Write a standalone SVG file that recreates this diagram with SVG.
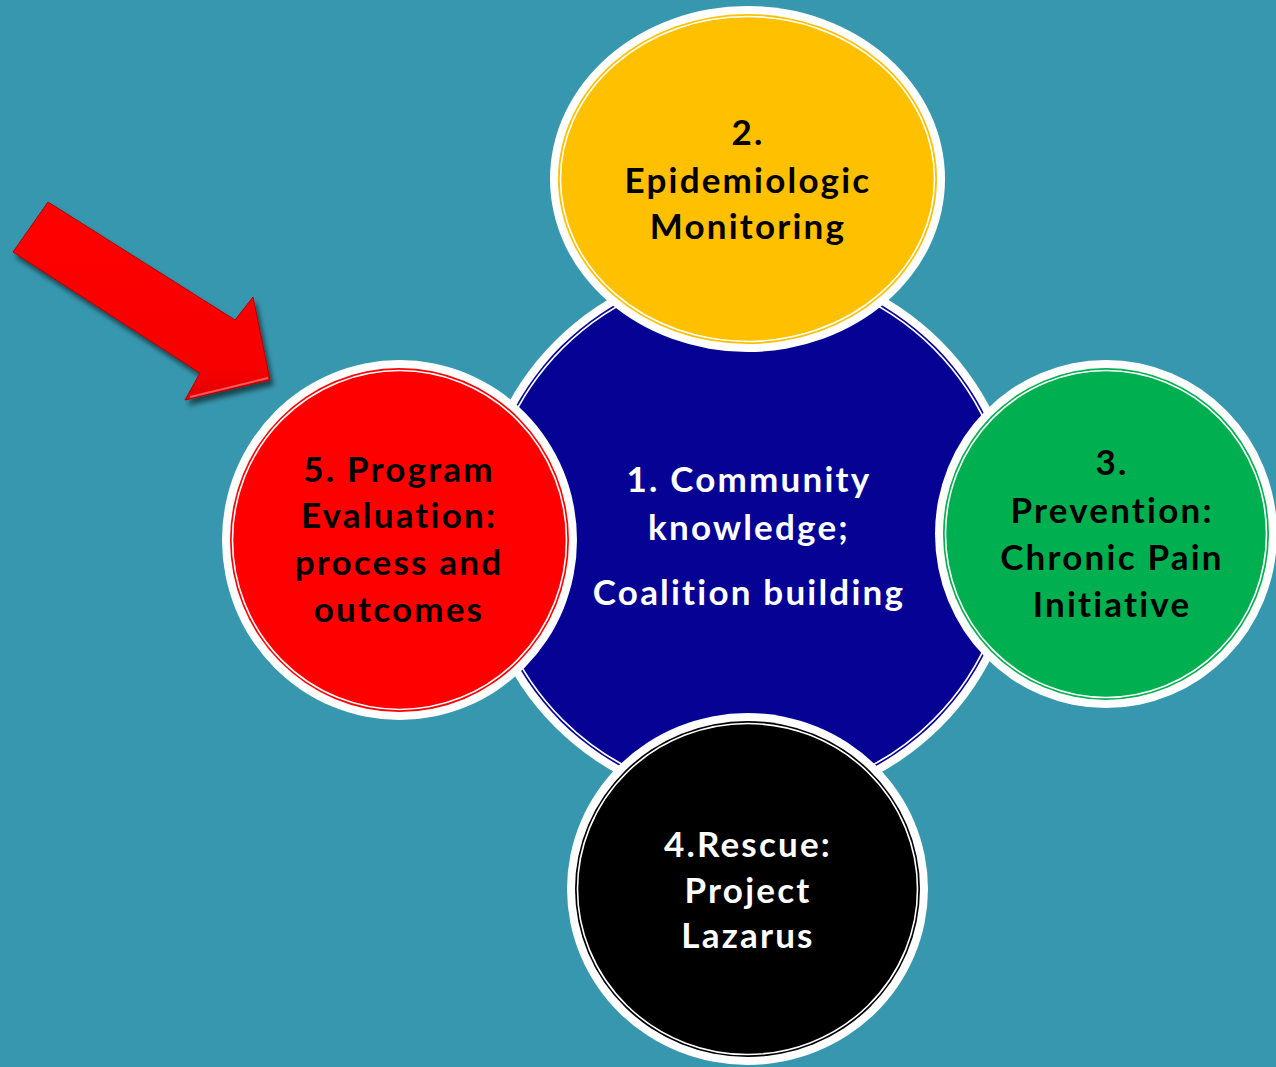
<svg xmlns="http://www.w3.org/2000/svg" width="1276" height="1067" viewBox="0 0 1276 1067">
  <style>
    .ring { fill: #ffffff; }
    .inner-line { fill: none; stroke: #ffffff; stroke-width: 1.6; }
    .label { font-family: Lato, "Open Sans", "Liberation Sans", sans-serif; font-weight: bold; font-size: 35px; letter-spacing: 2.2px; font-variant-ligatures: none; text-anchor: middle; }
    .dark { fill: #000000; }
    .light { fill: #ffffff; }
  </style>
  <defs>
    <filter id="arrowShadow" x="-20%" y="-20%" width="140%" height="150%">
      <feGaussianBlur in="SourceAlpha" stdDeviation="2.5"/>
      <feOffset dx="3" dy="5" result="blur"/>
      <feComponentTransfer><feFuncA type="linear" slope="0.55"/></feComponentTransfer>
      <feMerge><feMergeNode/><feMergeNode in="SourceGraphic"/></feMerge>
    </filter>
    <linearGradient id="arrowFill" x1="0" y1="0" x2="0" y2="1">
      <stop offset="0" stop-color="#ff0000"/>
      <stop offset="0.85" stop-color="#f70000"/>
      <stop offset="1" stop-color="#e00000"/>
    </linearGradient>
  </defs>

  <rect width="1276" height="1067" fill="#3797ae"/>

  <!-- pointer arrow -->
  <g id="arrow" filter="url(#arrowShadow)">
    <polygon points="48,202 235,320 253,297 270,380 185,400 200,373 13,252" fill="url(#arrowFill)" stroke="#b00000" stroke-width="1"/>
    <path d="M190,397 L268,378" stroke="#ff8080" stroke-width="2" opacity="0.7" fill="none"/>
  </g>

  <!-- 1. centre circle -->
  <g id="node-community">
    <circle cx="748" cy="534" r="273" class="ring"/>
    <circle cx="748" cy="534" r="265" fill="#060394"/>
    <circle cx="748" cy="534" r="262.5" class="inner-line"/>
    <text class="label light" x="749" y="492">1. Community</text>
    <text class="label light" x="749" y="540">knowledge;</text>
    <text class="label light" x="749" y="605">Coalition building</text>
  </g>

  <!-- 2. top ellipse -->
  <g id="node-epidemiologic">
    <ellipse cx="747.5" cy="179" rx="197.5" ry="173" class="ring"/>
    <ellipse cx="747.5" cy="179" rx="189.5" ry="165" fill="#ffc000"/>
    <ellipse cx="747.5" cy="179" rx="187" ry="162.5" class="inner-line"/>
    <text class="label dark" x="748" y="145">2.</text>
    <text class="label dark" x="748" y="193">Epidemiologic</text>
    <text class="label dark" x="748" y="239">Monitoring</text>
  </g>

  <!-- 3. right circle -->
  <g id="node-prevention">
    <ellipse cx="1106" cy="534" rx="171" ry="174" class="ring"/>
    <ellipse cx="1106" cy="534" rx="163" ry="166" fill="#00b050"/>
    <ellipse cx="1106" cy="534" rx="160.5" ry="163.5" class="inner-line"/>
    <text class="label dark" x="1112" y="475">3.</text>
    <text class="label dark" x="1112" y="523">Prevention:</text>
    <text class="label dark" x="1112" y="570">Chronic Pain</text>
    <text class="label dark" x="1112" y="617">Initiative</text>
  </g>

  <!-- 4. bottom circle -->
  <g id="node-rescue">
    <ellipse cx="747.5" cy="889" rx="180.5" ry="176" class="ring"/>
    <ellipse cx="747.5" cy="889" rx="172.5" ry="168" fill="#000000"/>
    <ellipse cx="747.5" cy="889" rx="170" ry="165.5" class="inner-line"/>
    <text class="label light" x="748" y="857">4.Rescue:</text>
    <text class="label light" x="748" y="903">Project</text>
    <text class="label light" x="748" y="948">Lazarus</text>
  </g>

  <!-- 5. left circle -->
  <g id="node-evaluation">
    <ellipse cx="399.5" cy="540" rx="177.5" ry="180" class="ring"/>
    <ellipse cx="399.5" cy="540" rx="169.5" ry="172" fill="#ff0000"/>
    <ellipse cx="399.5" cy="540" rx="167" ry="169.5" class="inner-line"/>
    <text class="label dark" x="399" y="482">5. Program</text>
    <text class="label dark" x="399" y="528">Evaluation:</text>
    <text class="label dark" x="399" y="575">process and</text>
    <text class="label dark" x="399" y="622">outcomes</text>
  </g>

  <g id="connectors"/>
</svg>
